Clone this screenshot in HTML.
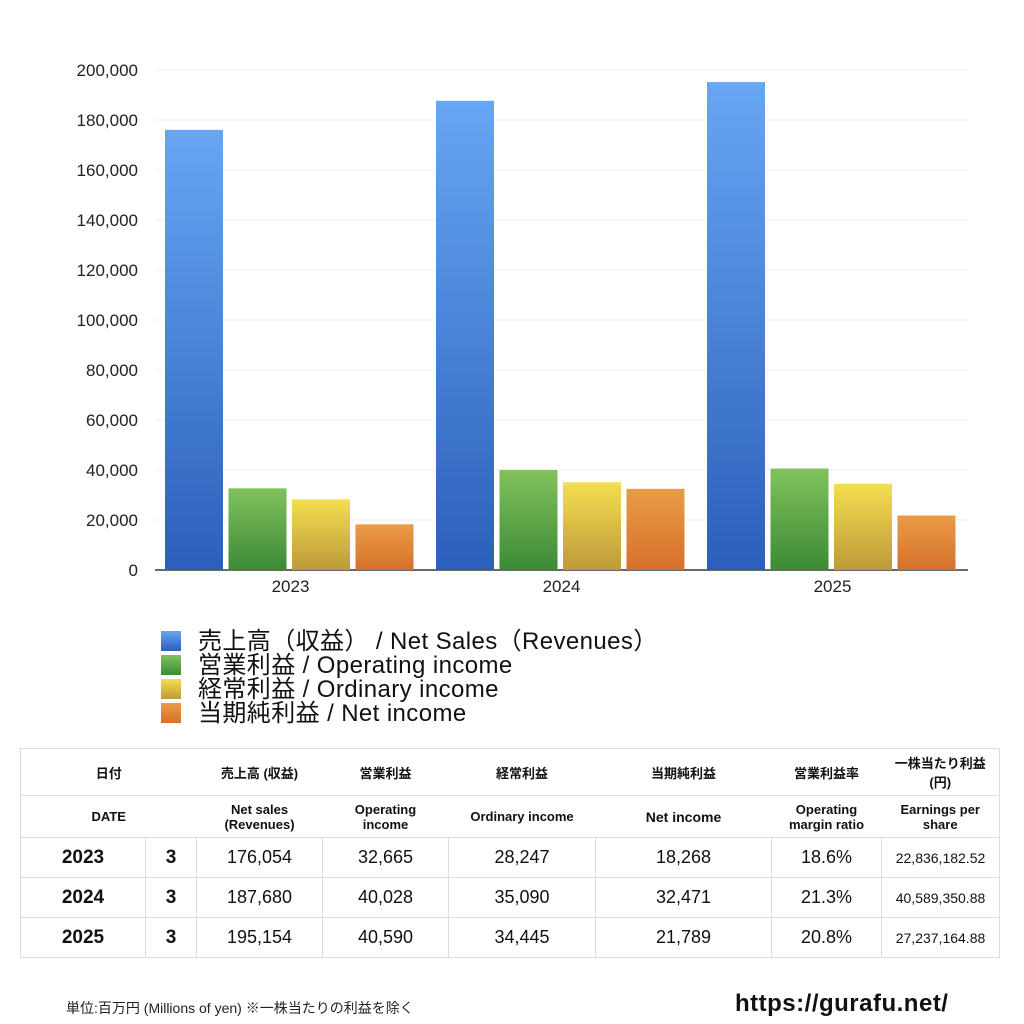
<!DOCTYPE html>
<html><head><meta charset="utf-8">
<style>
body{margin:0;width:1024px;height:1024px;background:#fff;font-family:"Liberation Sans","Noto Sans CJK JP",sans-serif;position:relative;overflow:hidden}
.abs{position:absolute}
table{position:absolute;left:20px;top:748px;width:980px;border-collapse:collapse;font-family:"Liberation Sans","Noto Sans CJK JP",sans-serif;color:#111}
td{text-align:center;padding:0;border:1px solid #ddd}
.h td{font-size:13px;font-weight:bold;border-left:none;border-right:none}
.d td{font-size:18px;height:39px}
.d td.y{font-weight:bold;font-size:19px}
</style></head><body>
<svg id="chart" class="abs" style="left:0;top:0" width="1024" height="620">
<defs>
<linearGradient id="gb" x1="0" y1="0" x2="0" y2="1"><stop offset="0" stop-color="#67a6f3"/><stop offset="1" stop-color="#2c5fbb"/></linearGradient>
<linearGradient id="gg" x1="0" y1="0" x2="0" y2="1"><stop offset="0" stop-color="#82c25c"/><stop offset="1" stop-color="#3b8a36"/></linearGradient>
<linearGradient id="gy" x1="0" y1="0" x2="0" y2="1"><stop offset="0" stop-color="#f4de50"/><stop offset="1" stop-color="#bd9a3a"/></linearGradient>
<linearGradient id="go" x1="0" y1="0" x2="0" y2="1"><stop offset="0" stop-color="#e99c45"/><stop offset="1" stop-color="#d6702c"/></linearGradient>
</defs>
<g id="grid"></g><g id="bars"></g><g id="xl"></g>
</svg>
<div class="abs" style="left:161px;top:630px;font-size:24px;line-height:24px;color:#111;letter-spacing:0.4px">
<div><span style="display:inline-block;width:20px;height:20px;vertical-align:-2px;margin-right:17px;background:linear-gradient(#67a6f3,#2c5fbb)"></span>売上高（収益） / Net Sales（Revenues）</div>
<div><span style="display:inline-block;width:20px;height:20px;vertical-align:-2px;margin-right:17px;background:linear-gradient(#82c25c,#3b8a36)"></span>営業利益 / Operating income</div>
<div><span style="display:inline-block;width:20px;height:20px;vertical-align:-2px;margin-right:17px;background:linear-gradient(#f4de50,#bd9a3a)"></span>経常利益 / Ordinary income</div>
<div><span style="display:inline-block;width:20px;height:20px;vertical-align:-2px;margin-right:17px;background:linear-gradient(#e99c45,#d6702c)"></span>当期純利益 / Net income</div>
</div>
<table>
<tr class="h" style="height:47px"><td colspan="2" style="width:175px;border-left:1px solid #ddd">日付</td><td style="width:126px">売上高 (収益)</td><td style="width:126px">営業利益</td><td style="width:147px">経常利益</td><td style="width:176px">当期純利益</td><td style="width:110px">営業利益率</td><td style="border-right:1px solid #ddd">一株当たり利益<br>(円)</td></tr>
<tr class="h" style="height:42px"><td colspan="2" style="border-left:1px solid #ddd">DATE</td><td>Net sales<br>(Revenues)</td><td>Operating<br>income</td><td>Ordinary income</td><td style="font-size:14px">Net income</td><td>Operating<br>margin ratio</td><td style="border-right:1px solid #ddd">Earnings per<br>share</td></tr>
<tr class="d"><td class="y" style="width:124px">2023</td><td class="y" style="width:50px">3</td><td>176,054</td><td>32,665</td><td>28,247</td><td>18,268</td><td>18.6%</td><td style="font-size:14px">22,836,182.52</td></tr>
<tr class="d"><td class="y">2024</td><td class="y">3</td><td>187,680</td><td>40,028</td><td>35,090</td><td>32,471</td><td>21.3%</td><td style="font-size:14px">40,589,350.88</td></tr>
<tr class="d"><td class="y">2025</td><td class="y">3</td><td>195,154</td><td>40,590</td><td>34,445</td><td>21,789</td><td>20.8%</td><td style="font-size:14px">27,237,164.88</td></tr>
</table>
<div class="abs" style="left:66px;top:998px;font-size:14px;color:#222">単位:百万円 (Millions of yen) ※一株当たりの利益を除く</div>
<div class="abs" style="left:735px;top:990px;font-size:24px;font-weight:bold;color:#111;letter-spacing:0.5px">https://gurafu.net/</div>
<script>
const categories=["2023","2024","2025"];
const netSales=[176054,187680,195154];
const operatingIncome=[32665,40028,40590];
const ordinaryIncome=[28247,35090,34445];
const netIncome=[18268,32471,21789];
const yTicks=[0,20000,40000,60000,80000,100000,120000,140000,160000,180000,200000];
const NS="http://www.w3.org/2000/svg";
const x0=155,x1=968,y0=570,y1=70,yMax=200000;
const y=v=>y0-(v/yMax)*(y0-y1);
const gw=(x1-x0)/categories.length;
function mk(t,a,p){const e=document.createElementNS(NS,t);for(const k in a)e.setAttribute(k,a[k]);p.appendChild(e);return e;}
const grid=document.getElementById('grid');
yTicks.forEach(t=>{
  if(t>0){const l=mk('line',{x1:x0,x2:x1,y1:y(t),y2:y(t),stroke:'#efefef','stroke-width':1},grid);
  
  }
  const tx=mk('text',{x:138,y:y(t)+6,'text-anchor':'end','font-size':17,fill:'#222'},grid);
  tx.textContent=t.toLocaleString('en-US');
  
  
});
const ax=mk('line',{x1:x0,x2:x1,y1:y0,y2:y0,stroke:'#111','stroke-width':1.2},grid);


const series=[[netSales,'url(#gb)','net-sales'],[operatingIncome,'url(#gg)','operating-income'],[ordinaryIncome,'url(#gy)','ordinary-income'],[netIncome,'url(#go)','net-income']];
const bars=document.getElementById('bars'),xl=document.getElementById('xl');
const bw=58,gap=5.5,off=10;
categories.forEach((c,i)=>{
  series.forEach((s,j)=>{
    const v=s[0][i];
    const r=mk('rect',{x:x0+i*gw+off+j*(bw+gap),y:y(v),width:bw,height:y0-y(v),fill:s[1]},bars);
    
    
  });
  const t=mk('text',{x:x0+i*gw+gw/2,y:592,'text-anchor':'middle','font-size':17,fill:'#222'},xl);
  t.textContent=c;
  
  
});
</script>
</body></html>
